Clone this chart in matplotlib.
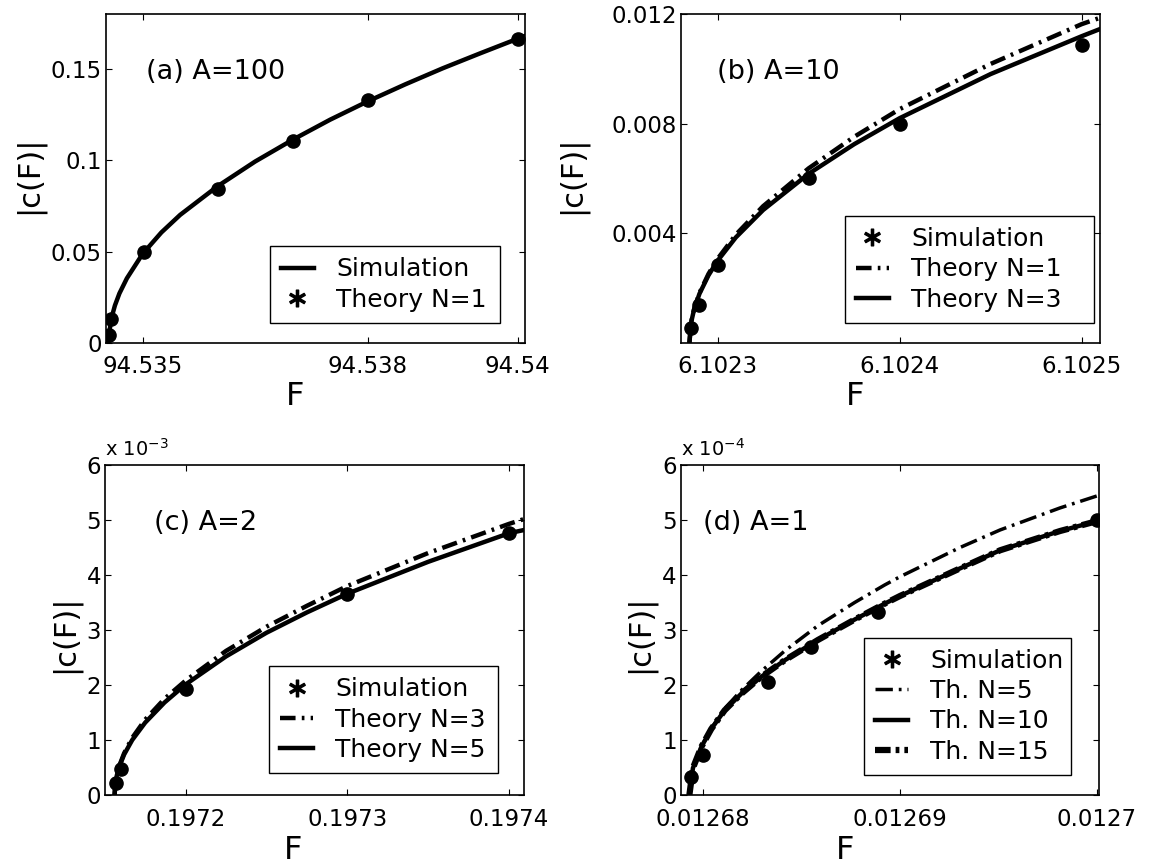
import matplotlib.pyplot as plt
from matplotlib.lines import Line2D

plt.rcParams["font.family"] = ["DejaVu Sans"]

# ---- panel (a) A=100 ----
A_LINE_F = [94.53455, 94.534555, 94.53457, 94.53459, 94.53463, 94.53469, 94.53479,
            94.53500, 94.53525, 94.53550, 94.53600, 94.53650, 94.53700, 94.53750,
            94.53800, 94.53850, 94.53900, 94.53950, 94.54000, 94.54009]
A_LINE_C = [0.0, 0.0050, 0.0101, 0.0145, 0.0205, 0.0271, 0.0354, 0.0488, 0.0605,
            0.0701, 0.0858, 0.0993, 0.1112, 0.1222, 0.1322, 0.1415, 0.1503, 0.1585,
            0.1665, 0.1679]
A_DOT_F = [94.534556, 94.53458, 94.53502, 94.53600, 94.53701, 94.53801, 94.54000]
A_DOT_C = [0.0045, 0.0130, 0.0498, 0.0843, 0.1107, 0.1329, 0.1661]

# ---- panel (b) A=10 ----
B_LINE_F = [6.1022845, 6.1022855, 6.102287, 6.10229, 6.102295, 6.1023, 6.10231,
            6.102325, 6.10235, 6.102375, 6.1024, 6.10245, 6.1025, 6.10251]
B_N1_C = [0.0, 0.00077, 0.00122, 0.00182, 0.00252, 0.00307, 0.00395, 0.00499,
          0.00637, 0.00752, 0.00853, 0.01018, 0.01163, 0.01186]
B_N3_C = [0.0, 0.00076, 0.00120, 0.00179, 0.00247, 0.00300, 0.00385, 0.00485,
          0.00617, 0.00725, 0.00820, 0.00981, 0.01119, 0.01145]
B_DOT_F = [6.1022855, 6.10229, 6.1023, 6.10235, 6.1024, 6.1025]
B_DOT_C = [0.00055, 0.0014, 0.00286, 0.0060, 0.0080, 0.01087]

# ---- panel (c) A=2 ----
C_LINE_F = [0.1971561, 0.1971566, 0.1971575, 0.197159, 0.197162, 0.197167, 0.197175,
            0.197187, 0.1972, 0.197225, 0.19725, 0.197275, 0.1973, 0.19735, 0.1974,
            0.1974095]
C_N3_C = [0.0, 0.22e-3, 0.37e-3, 0.53e-3, 0.76e-3, 1.04e-3, 1.37e-3, 1.75e-3, 2.08e-3,
          2.62e-3, 3.06e-3, 3.44e-3, 3.80e-3, 4.40e-3, 4.93e-3, 5.02e-3]
C_N5_C = [0.0, 0.214e-3, 0.358e-3, 0.516e-3, 0.736e-3, 1.0e-3, 1.316e-3, 1.683e-3,
          2.01e-3, 2.52e-3, 2.95e-3, 3.32e-3, 3.66e-3, 4.24e-3, 4.76e-3, 4.82e-3]
C_DOT_F = [0.1971572, 0.19716, 0.1972, 0.1973, 0.1974]
C_DOT_C = [0.22e-3, 0.47e-3, 1.92e-3, 3.65e-3, 4.77e-3]

# ---- panel (d) A=1 ----
D_LINE_F = [0.0126793, 0.01267948, 0.0126799, 0.01268041, 0.01268109, 0.01268193,
            0.01268295, 0.01268414, 0.01268583, 0.01268769, 0.01268922, 0.01269,
            0.01269304, 0.01269508, 0.01269812, 0.0127001]
D_N5_C = [0.0, 0.49e-4, 0.87e-4, 1.21e-4, 1.57e-4, 1.90e-4, 2.25e-4, 2.62e-4, 3.08e-4,
          3.50e-4, 3.82e-4, 3.97e-4, 4.50e-4, 4.82e-4, 5.22e-4, 5.45e-4]
D_N10_C = [0.0, 0.49e-4, 0.87e-4, 1.20e-4, 1.54e-4, 1.84e-4, 2.15e-4, 2.45e-4, 2.82e-4,
           3.19e-4, 3.48e-4, 3.62e-4, 4.12e-4, 4.45e-4, 4.80e-4, 4.99e-4]
D_N15_C = [0.0, 0.49e-4, 0.87e-4, 1.20e-4, 1.54e-4, 1.84e-4, 2.15e-4, 2.45e-4, 2.82e-4,
           3.19e-4, 3.48e-4, 3.62e-4, 4.12e-4, 4.45e-4, 4.80e-4, 4.99e-4]
D_DOT_F = [0.0126794, 0.01268, 0.0126833, 0.0126855, 0.0126889, 0.0127]
D_DOT_C = [0.33e-4, 0.73e-4, 2.06e-4, 2.70e-4, 3.33e-4, 5.0e-4]

DASHDOT = (0, (3.5, 1.4, 0.6, 1.4))
DASHDOT_THIN = (0, (5.0, 1.7, 0.8, 1.7))
DASHDOT_THICK = (0, (2.5, 0.8, 0.6, 0.8))
LW = 3.2
DOT_SIZE = 9.5

TICK_FS = 16.5
XLABEL_FS = 23
YLABEL_FS = 22
LEGEND_FS = 18
TAG_FS = 19.5


def asterisk_handle():
    return Line2D([], [], ls="", marker=r"$\ast$", ms=12, color="k")


def line_handle(style, lw=LW):
    return Line2D([], [], color="k", lw=lw, ls=style)


def style_axes(ax, xlim, ylim, xticks, xticklabels, yticks, yticklabels,
               tag, tag_x, ylabel_x, ylabel_y, xlabel_x, xlabel_y):
    ax.set_xlim(xlim)
    ax.set_ylim(ylim)
    ax.set_xticks(xticks)
    ax.set_xticklabels(xticklabels)
    ax.set_yticks(yticks)
    ax.set_yticklabels(yticklabels)
    ax.tick_params(direction="in", top=True, right=True, length=4, width=0.8,
                   labelsize=TICK_FS)
    ax.tick_params(axis="x", pad=9)
    ax.tick_params(axis="y", pad=3)
    for spine in ax.spines.values():
        spine.set_linewidth(1.2)

    ax.set_xlabel("F", fontsize=XLABEL_FS)
    ax.xaxis.set_label_coords(xlabel_x, xlabel_y)
    ax.xaxis.label.set_verticalalignment("center")
    ax.set_ylabel("|c(F)|", fontsize=YLABEL_FS)
    ax.yaxis.set_label_coords(ylabel_x, ylabel_y)
    ax.yaxis.label.set_verticalalignment("center")

    ax.text(tag_x, 0.824, tag, transform=ax.transAxes, fontsize=TAG_FS,
            ha="left", va="center")


def add_legend(ax, handles, labels, box):
    x0, y0, w = box
    leg = ax.legend(handles, labels, loc="lower left",
                    bbox_to_anchor=(x0, y0, w, 0.2), mode="expand",
                    fontsize=LEGEND_FS, frameon=True, fancybox=False,
                    edgecolor="black", framealpha=1, borderpad=0.45,
                    labelspacing=0.25, handlelength=1.3, handletextpad=0.9,
                    borderaxespad=0)
    leg.get_frame().set_linewidth(1.0)


fig = plt.figure(figsize=(11.49, 8.65), dpi=100)

ax_a = fig.add_axes([0.0923, 0.6035, 0.3647, 0.3803])
ax_b = fig.add_axes([0.5927, 0.6035, 0.3647, 0.3803])
ax_c = fig.add_axes([0.0917, 0.0809, 0.3647, 0.3815])
ax_d = fig.add_axes([0.5927, 0.0809, 0.3638, 0.3815])

# (a)
ax_a.plot(A_LINE_F, A_LINE_C, color="k", lw=LW)
ax_a.plot(A_DOT_F, A_DOT_C, ls="", marker="o", ms=DOT_SIZE, color="k")
style_axes(ax_a, (94.534512, 94.540098), (0, 0.18),
           [94.535, 94.538, 94.54], ["94.535", "94.538", "94.54"],
           [0, 0.05, 0.1, 0.15], ["0", "0.05", "0.1", "0.15"],
           "(a) A=100", 0.096, -0.184, 0.51, 0.45, -0.164)
add_legend(ax_a, [line_handle("-"), asterisk_handle()],
           ["Simulation", "Theory N=1"], (0.391, 0.061, 0.548))

# (b)
ax_b.plot(B_LINE_F, B_N1_C, color="k", lw=LW, ls=DASHDOT)
ax_b.plot(B_LINE_F, B_N3_C, color="k", lw=LW)
ax_b.plot(B_DOT_F, B_DOT_C, ls="", marker="o", ms=DOT_SIZE, color="k")
style_axes(ax_b, (6.1022799, 6.1025101), (0, 0.012),
           [6.1023, 6.1024, 6.1025], ["6.1023", "6.1024", "6.1025"],
           [0.004, 0.008, 0.012], ["0.004", "0.008", "0.012"],
           "(b) A=10", 0.087, -0.26, 0.51, 0.415, -0.164)
add_legend(ax_b, [asterisk_handle(), line_handle(DASHDOT), line_handle("-")],
           ["Simulation", "Theory N=1", "Theory N=3"], (0.391, 0.061, 0.594))

# (c)
ax_c.plot(C_LINE_F, C_N3_C, color="k", lw=LW, ls=DASHDOT)
ax_c.plot(C_LINE_F, C_N5_C, color="k", lw=LW)
ax_c.plot(C_DOT_F, C_DOT_C, ls="", marker="o", ms=DOT_SIZE, color="k")
style_axes(ax_c, (0.1971504, 0.1974095), (0, 6e-3),
           [0.1972, 0.1973, 0.1974], ["0.1972", "0.1973", "0.1974"],
           [i * 1e-3 for i in range(7)], [str(i) for i in range(7)],
           "(c) A=2", 0.115, -0.096, 0.49, 0.447, -0.168)
ax_c.text(0.0, 1.015, r"x 10$^{-3}$", transform=ax_c.transAxes, fontsize=14,
          ha="left", va="bottom")
add_legend(ax_c, [asterisk_handle(), line_handle(DASHDOT), line_handle("-")],
           ["Simulation", "Theory N=3", "Theory N=5"], (0.391, 0.066, 0.546))

# (d)
ax_d.plot(D_LINE_F, D_N5_C, color="k", lw=2.5, ls=DASHDOT_THIN)
ax_d.plot(D_LINE_F, D_N10_C, color="k", lw=LW)
ax_d.plot(D_LINE_F, D_N15_C, color="k", lw=4.5, ls=DASHDOT_THICK)
ax_d.plot(D_DOT_F, D_DOT_C, ls="", marker="o", ms=DOT_SIZE, color="k")
style_axes(ax_d, (0.012678875, 0.0127001), (0, 6e-4),
           [0.01268, 0.01269, 0.0127], ["0.01268", "0.01269", "0.0127"],
           [i * 1e-4 for i in range(7)], [str(i) for i in range(7)],
           "(d) A=1", 0.053, -0.098, 0.49, 0.392, -0.168)
ax_d.text(0.0, 1.015, r"x 10$^{-4}$", transform=ax_d.transAxes, fontsize=14,
          ha="left", va="bottom")
add_legend(ax_d, [asterisk_handle(), line_handle(DASHDOT_THIN, 2.5), line_handle("-"),
                  line_handle(DASHDOT_THICK, 4.5)],
           ["Simulation", "Th. N=5", "Th. N=10", "Th. N=15"], (0.438, 0.061, 0.495))

fig.savefig("out.png", dpi=100)
